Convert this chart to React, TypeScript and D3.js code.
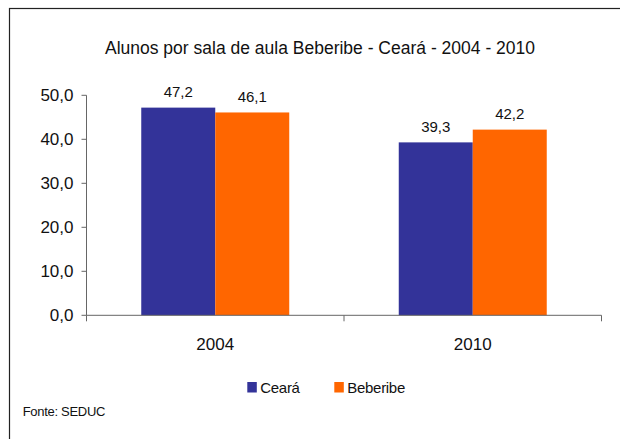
import React from 'react';
import * as d3 from 'd3';

const years = ['2004', '2010'];
const series = ['Ceará', 'Beberibe'];
const ceara = [47.2, 39.3];
const beberibe = [46.1, 42.2];
const yTicks = [0, 10, 20, 30, 40, 50];
const colors = ['#333399', '#FF6600'];

const width = 620;
const height = 439;
const font = '"Liberation Sans", Arial, sans-serif';

export default function App() {
  const values = [ceara, beberibe];

  const x0 = d3.scaleBand<string>().domain(years).range([86.5, 601.5]).padding(0);
  const x1 = d3.scaleBand<string>().domain(series).range([0, x0.bandwidth()]).paddingInner(0).paddingOuter(0.74);
  const y = d3.scaleLinear().domain([0, 50]).range([315.3, 95.3]);
  const fmt = (v: number) => v.toFixed(1).replace('.', ',');

  const axisColor = '#666';

  return (
    <svg width={width} height={height} style={{ position: 'absolute', left: 0, top: 0, fontFamily: font }}>
      <rect x={0} y={0} width={width} height={height} fill="#fff" />
      <rect x={9.5} y={8.5} width={width + 10} height={height + 10} fill="none" stroke="#222" strokeWidth={1.2} />

      <text x={320} y={54} textAnchor="middle" fontSize={17.5} fill="#111">
        Alunos por sala de aula Beberibe - Ceará - 2004 - 2010
      </text>

      {/* bars */}
      {years.map((yr, i) => (
        <g key={yr} transform={`translate(${x0(yr)},0)`}>
          {series.map((s, j) => {
            const v = values[j][i];
            const bx = x1(s)!;
            return (
              <g key={s}>
                <rect x={bx} y={y(v)} width={x1.bandwidth()} height={y(0) - y(v)} fill={colors[j]} />
                <text x={bx + x1.bandwidth() / 2} y={y(v) - 10.5} textAnchor="middle" fontSize={15} fill="#111">
                  {fmt(v)}
                </text>
              </g>
            );
          })}
        </g>
      ))}

      {/* y axis */}
      <line x1={86.5} x2={86.5} y1={y(50)} y2={y(0)} stroke={axisColor} strokeWidth={1} />
      {yTicks.map(t => (
        <g key={t}>
          <line x1={81.5} x2={86.5} y1={y(t)} y2={y(t)} stroke={axisColor} strokeWidth={1} />
          <text x={73.5} y={y(t)} dy="0.36em" textAnchor="end" fontSize={17} fill="#111">
            {fmt(t)}
          </text>
        </g>
      ))}

      {/* x axis */}
      <line x1={86.5} x2={601.5} y1={y(0)} y2={y(0)} stroke={axisColor} strokeWidth={1} />
      {[...years.map(yr => x0(yr)!), x0.range()[1]].map((tx, i) => (
        <line key={i} x1={tx} x2={tx} y1={y(0)} y2={y(0) + 6} stroke={axisColor} strokeWidth={1} />
      ))}
      {years.map(yr => (
        <text key={yr} x={x0(yr)! + x0.bandwidth() / 2} y={350} textAnchor="middle" fontSize={17} fill="#111">
          {yr}
        </text>
      ))}

      {/* legend */}
      {series.map((s, j) => {
        const lx = [247.3, 334.3][j];
        return (
          <g key={s}>
            <rect x={lx} y={382} width={9.5} height={10.5} fill={colors[j]} />
            <text x={lx + 13} y={392.7} fontSize={15} fill="#111" letterSpacing={-0.3}>
              {s}
            </text>
          </g>
        );
      })}

      <text x={22.7} y={416} fontSize={13} fill="#111" letterSpacing={-0.3}>
        Fonte: SEDUC
      </text>
    </svg>
  );
}
